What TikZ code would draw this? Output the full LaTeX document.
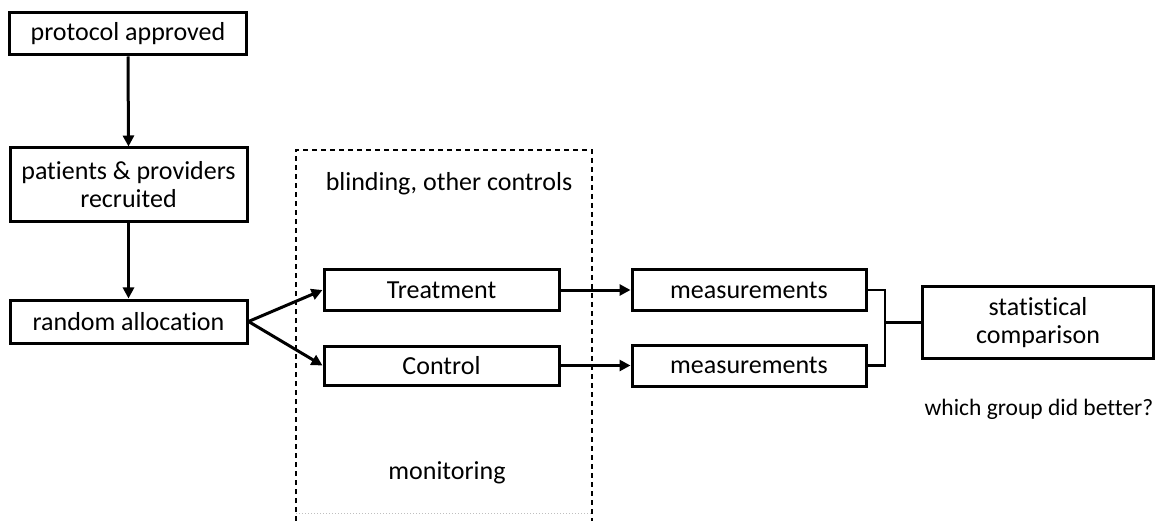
\documentclass[tikz,border=0pt]{standalone}
\usepackage{fontspec}
\setmainfont[Ligatures=NoCommon]{Carlito}
\usetikzlibrary{arrows.meta}
\begin{document}
\begin{tikzpicture}[x=1pt,y=-1pt,
  box/.style={draw, line width=3pt, inner sep=0pt, align=center,
    font=\fontsize{26}{28}\selectfont},
  lbl/.style={inner sep=0pt, font=\fontsize{26}{28}\selectfont},
  small/.style={inner sep=0pt, font=\fontsize{23.5}{25}\selectfont},
  arr/.style={line width=3pt, -{Triangle[length=11pt,width=11pt]}},
  link/.style={line width=2.8pt}]
\useasboundingbox (0,0) rectangle (1156,521);
\node[box, minimum width=237pt, minimum height=42pt] (prot) at (128,34) {protocol approved};
\node[box, minimum width=237pt, minimum height=74pt] (pat) at (128.5,185) {patients \& providers\\recruited};
\node[box, minimum width=237pt, minimum height=43pt] (rand) at (128.5,321.5) {random allocation};
\coordinate (dtl) at (296,150);
\coordinate (dtr) at (592,150);
\coordinate (dbl) at (296,521);
\coordinate (dbr) at (592,521);
\draw[dashed, line width=1.1pt, dash pattern=on 5pt off 4pt] (dbl) -- (dtl) -- (dtr) -- (dbr);
\draw[black!25, dotted, line width=1pt] (296,513) -- (592,513);
\node[lbl] (bl) at (449,184) {blinding, other controls};
\node[lbl] (mon) at (447,473) {monitoring};
\node[box, minimum width=235pt, minimum height=40pt] (treat) at (441.5,290) {Treatment};
\node[box, minimum width=235pt, minimum height=39pt] (ctrl) at (441.5,365.5) {Control};
\node[box, minimum width=234pt, minimum height=40pt] (m1) at (749,290) {measurements};
\node[box, minimum width=234pt, minimum height=41pt] (m2) at (749,365.5) {measurements};
\node[box, minimum width=231pt, minimum height=71pt] (stat) at (1038,322.5) {statistical\\comparison};
\node[small] (which) at (1039,409) {which group did better?};
\coordinate (j) at (885,322.5);
\draw[arr] (prot.south) -- (pat.north);
\draw[arr] (pat.south) -- (rand.north);
\draw[arr] (rand.east) -- (treat.west);
\draw[arr] (rand.east) -- (ctrl.west);
\draw[arr] (treat.east) -- (m1.west);
\draw[arr] (ctrl.east) -- (m2.west);
\draw[link] (m1.east) -| (j) |- (m2.east);
\draw[link] (j) -- (stat.west);
\end{tikzpicture}
\end{document}
